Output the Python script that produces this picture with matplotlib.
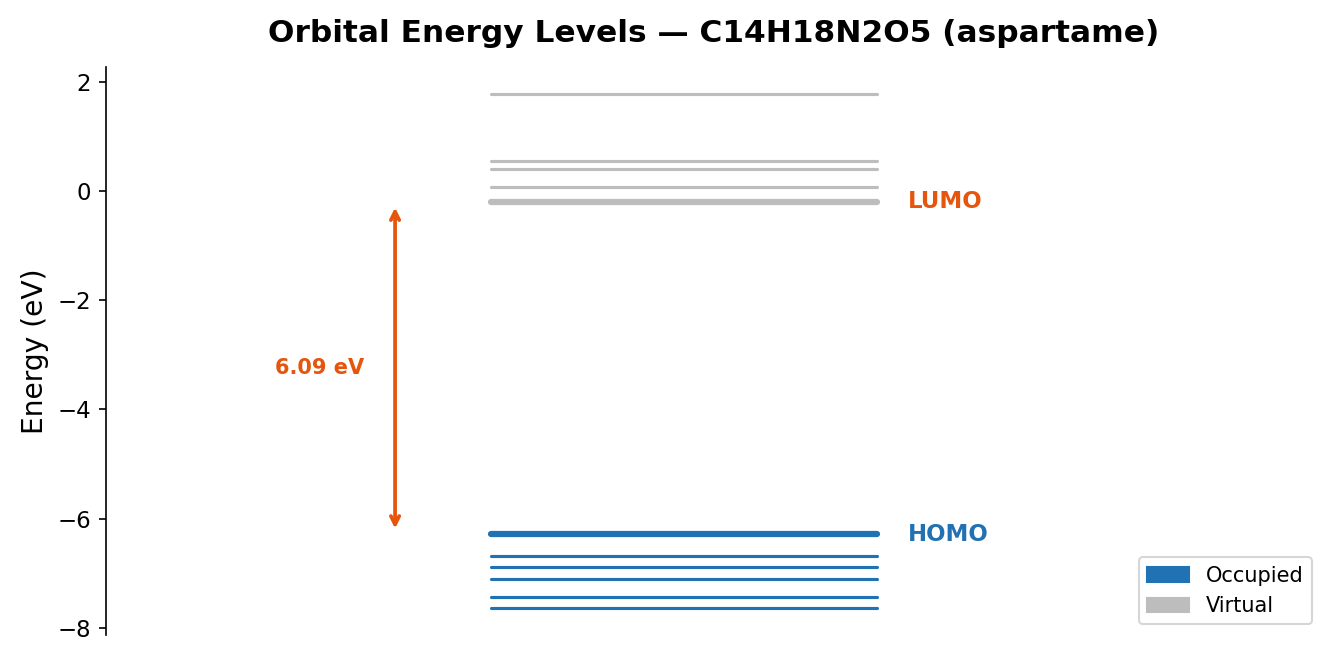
import matplotlib
matplotlib.use("Agg")
import matplotlib.pyplot as plt
from matplotlib.patches import Patch

# orbital energies (eV)
occupied = [-7.63, -7.43, -7.10, -6.88, -6.68, -6.29]
virtual = [-0.20, 0.07, 0.40, 0.55, 1.77]
homo = max(occupied)
lumo = min(virtual)
gap = lumo - homo

blue = "#2171b5"
grey = "#bdbdbd"
orange = "#e6550d"

fig = plt.figure(figsize=(1341 / 150, 662 / 150), dpi=150)
ax = fig.add_axes([0.079, 0.041, 0.907, 0.858])

for e in occupied:
    lw = 3.0 if e == homo else 1.5
    ax.plot([0, 1], [e, e], color=blue, lw=lw, solid_capstyle="round")
for e in virtual:
    lw = 3.0 if e == lumo else 1.5
    ax.plot([0, 1], [e, e], color=grey, lw=lw, solid_capstyle="round")

ax.annotate("", xy=(-0.25, lumo - 0.03), xytext=(-0.25, homo + 0.03),
            arrowprops=dict(arrowstyle="<->", color=orange, lw=1.8))
ax.text(-0.33, (homo + lumo) / 2, f"{gap:.2f} eV", color=orange,
        fontsize=10, fontweight="bold", ha="right", va="center")
ax.text(1.08, lumo, "LUMO", color=orange, fontsize=11, fontweight="bold",
        ha="left", va="center")
ax.text(1.08, homo, "HOMO", color=blue, fontsize=11, fontweight="bold",
        ha="left", va="center")

ax.set_xlim(-1, 2.155)
ax.set_ylim(min(occupied) - 0.5, max(virtual) + 0.5)
ax.set_xticks([])
for s in ["top", "right", "bottom"]:
    ax.spines[s].set_visible(False)
ax.tick_params(axis="y", labelsize=11)
ax.set_ylabel("Energy (eV)", fontsize=13.5)
ax.set_title("Orbital Energy Levels — C14H18N2O5 (aspartame)",
             fontsize=15, fontweight="bold", pad=12)

handles = [Patch(color=blue, label="Occupied"), Patch(color=grey, label="Virtual")]
ax.legend(handles=handles, loc="lower right", fontsize=10)

fig.savefig("out.png", dpi=150)
